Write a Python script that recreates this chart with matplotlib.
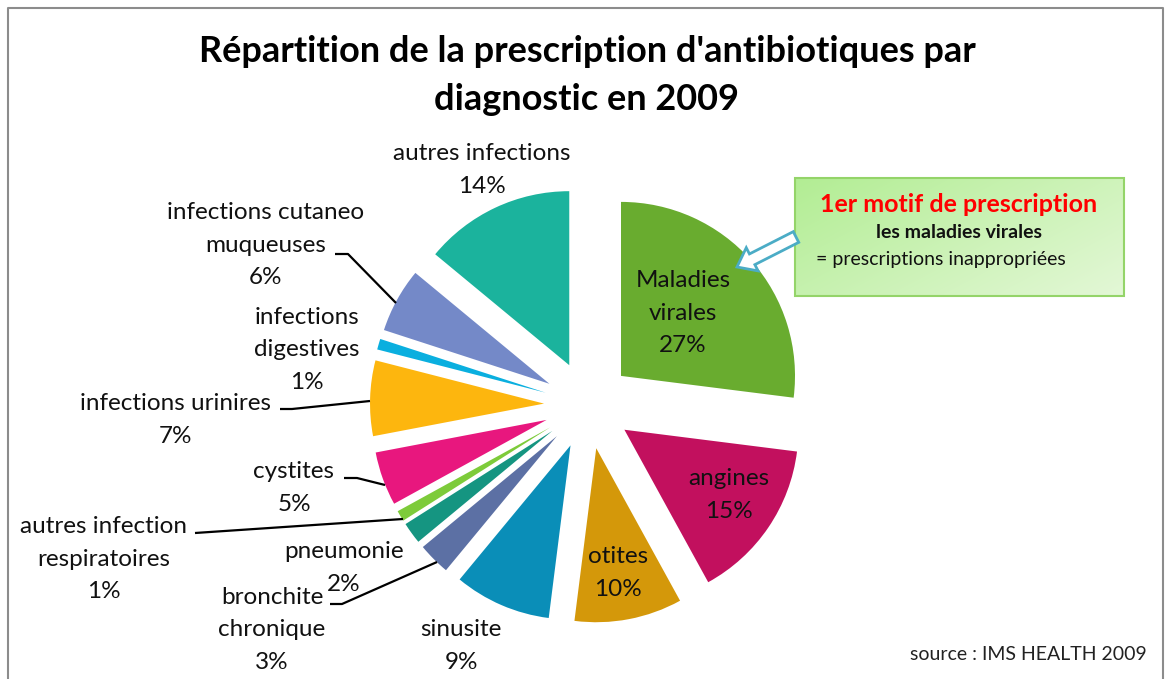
"""Répartition de la prescription d'antibiotiques par diagnostic (2009) -> out.png"""

import numpy as np
import matplotlib.pyplot as plt
from matplotlib.patches import Rectangle, FancyArrow

plt.rcParams["font.family"] = ["Lato", "DejaVu Sans"]

W, H = 1171, 679

# slices, clockwise from 12 o'clock
LABELS = [
    "Maladies\nvirales", "angines", "otites", "sinusite",
    "bronchite\nchronique", "pneumonie", "autres infection\nrespiratoires",
    "cystites", "infections urinires", "infections\ndigestives",
    "infections cutaneo\nmuqueuses", "autres infections",
]
PCTS = [27, 15, 10, 9, 3, 2, 1, 5, 7, 1, 6, 14]
COLORS = [
    "#69ac2f", "#c2105e", "#d4980a", "#0a8eb8",
    "#5c70a4", "#159581", "#7dcb3a", "#e8177e",
    "#fdb60e", "#0aafdf", "#7489c8", "#1bb39d",
]

# label centres (pixels, y down) and optional leader lines
LABEL_POS = [
    (683, 313), (729, 495), (618, 573), (461, 646),
    (272, 630), (344, 568), (104, 559),
    (294, 488), (176, 420), (307, 350),
    (266, 245), (482, 170),
]
LEADERS = {
    4: [(330, 604), (342, 604), (437, 562)],
    6: [(195, 533), (403, 519)],
    7: [(344, 478), (357, 478), (385, 485)],
    8: [(280, 409), (292, 409), (370, 401)],
    10: [(335, 254), (348, 254), (396, 303)],
}

CENTER = (588, 405)
RADIUS = 174
EXPLODE = 44


def Y(py):
    return H - py


def main():
    fig = plt.figure(figsize=(W / 100, H / 100), dpi=100)
    ax = fig.add_axes([0, 0, 1, 1])

    ax.pie(PCTS, colors=COLORS, startangle=90, counterclock=False,
           center=(CENTER[0], Y(CENTER[1])), radius=RADIUS,
           explode=[EXPLODE] * len(PCTS),
           wedgeprops=dict(linewidth=0))

    for i, (lab, pct) in enumerate(zip(LABELS, PCTS)):
        x, y = LABEL_POS[i]
        ax.text(x, Y(y), f"{lab}\n{pct}%", ha="center", va="center",
                fontsize=17.5, linespacing=1.7, color="#111111")
    for pts in LEADERS.values():
        xs = [p[0] for p in pts]
        ys = [Y(p[1]) for p in pts]
        ax.plot(xs, ys, color="black", lw=1.6, solid_capstyle="butt")

    # outer frame
    ax.plot([8, 8, 1163, 1163], [0, Y(8), Y(8), 0], color="#8c8c8c", lw=1.5)

    ax.text(587, Y(52), "Répartition de la prescription d'antibiotiques par",
            ha="center", va="center", fontsize=26, fontweight="bold")
    ax.text(587, Y(100), "diagnostic en 2009",
            ha="center", va="center", fontsize=26, fontweight="bold")

    # callout box with green gradient
    x0, x1, y0, y1 = 795, 1124, 178, 296
    gx, gy = np.meshgrid(np.linspace(0, 1, 64), np.linspace(0, 1, 32))
    t = 0.6 * gx + 0.4 * gy
    c0 = np.array([0.70, 0.93, 0.58])
    c1 = np.array([0.89, 0.97, 0.84])
    img = c0[None, None, :] * (1 - t[..., None]) + c1[None, None, :] * t[..., None]
    ax.imshow(img, extent=(x0, x1, Y(y1), Y(y0)), origin="upper",
              interpolation="bilinear", zorder=3)
    ax.add_patch(Rectangle((x0, Y(y1)), x1 - x0, y1 - y0, fill=False,
                           ec="#94d469", lw=1.5, zorder=4))
    ax.text(959, Y(204), "1er motif de prescription", ha="center", va="center",
            fontsize=18, fontweight="bold", color="#ff0000", zorder=5)
    ax.text(959, Y(232), "les maladies virales", ha="center", va="center",
            fontsize=14, fontweight="bold", color="#111111", zorder=5)
    ax.text(941, Y(259), "= prescriptions inappropriées", ha="center",
            va="center", fontsize=14, color="#111111", zorder=5)

    ax.add_patch(FancyArrow(796, Y(237), 737 - 796, Y(267) - Y(237),
                            width=12, head_width=26, head_length=17,
                            length_includes_head=True, fc="white",
                            ec="#4bacc6", lw=2, zorder=6))

    ax.text(1147, Y(655), "source : IMS HEALTH 2009", ha="right",
            va="center", fontsize=14, color="#222222")

    ax.set_xlim(0, W)
    ax.set_ylim(0, H)
    ax.set_aspect("equal")
    ax.axis("off")
    fig.savefig("out.png", dpi=100)


if __name__ == "__main__":
    main()
